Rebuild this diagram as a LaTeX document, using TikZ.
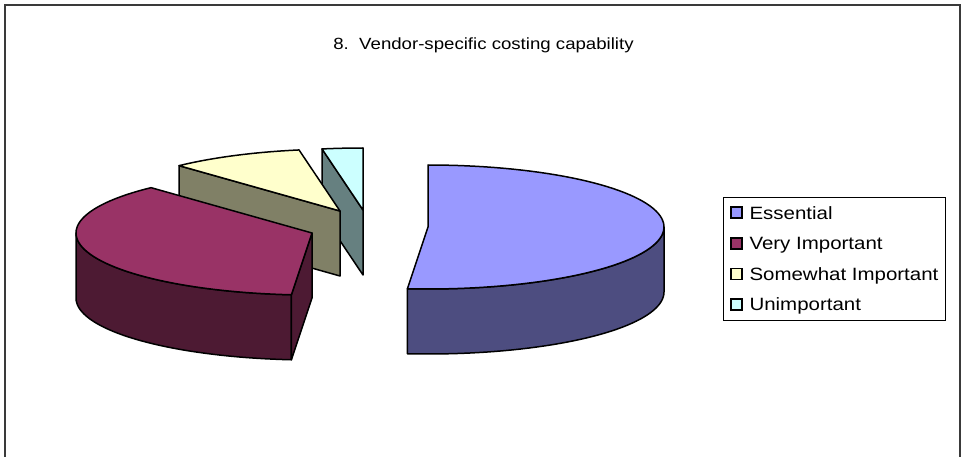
\documentclass[tikz,border=0pt]{standalone}
\usepackage{fontspec}
\newfontfamily\chartfont{Liberation Sans}[FakeStretch=1.15]
\definecolor{essTop}{HTML}{9999FF}
\definecolor{essSide}{HTML}{4D4D80}
\definecolor{viTop}{HTML}{993366}
\definecolor{viSide}{HTML}{4D1A33}
\definecolor{swTop}{HTML}{FFFFCC}
\definecolor{swSide}{HTML}{808066}
\definecolor{unTop}{HTML}{CCFFFF}
\definecolor{unSide}{HTML}{668080}
\definecolor{frameGray}{HTML}{3A3A3A}
\tikzset{
  face/.style={draw=black, line width=1.5pt, line join=round},
  legsq/.style={draw=black, line width=1.6pt, minimum size=11pt, inner sep=0pt},
  legtxt/.style={font=\chartfont\fontsize{17.8}{21}\selectfont, inner sep=0pt, anchor=base west},
}
\begin{document}
\begin{tikzpicture}[x=1pt,y=-1pt]
\useasboundingbox (0,0) rectangle (961,457);
% outer frame
\draw[frameGray, line width=2pt] (4.5,5.5) rectangle (960,480);
% title
\node[font=\chartfont\fontsize{16.2}{19}\selectfont, inner sep=0pt, anchor=base] (title) at (483.5,49.5) {8.\ \ Vendor-specific costing capability};
% ---- Unimportant (center 363,210), 90..100
\fill[unSide] (363,210) -- ({363+236*cos(100)},{210-62*sin(100)}) -- ++(0,65) -- (363,275) -- cycle;
\draw[face] (363,210) -- ({363+236*cos(100)},{210-62*sin(100)}) -- ++(0,65) -- (363,275) -- cycle;
\draw[face, fill=unTop] (363,210) -- plot[domain=100:90,samples=6] ({363+236*cos(\x)},{210-62*sin(\x)}) -- cycle;
% ---- Somewhat Important (center 340,211), 100..133
\draw[face, fill=swSide] (340,211) -- ({340+236*cos(133)},{211-62*sin(133)}) -- ++(0,65) -- (340,276) -- cycle;
\draw[face, fill=swTop] (340,211) -- plot[domain=133:100,samples=15] ({340+236*cos(\x)},{211-62*sin(\x)}) -- cycle;
% ---- Very Important (center 312,233), 133..265
\draw[face, fill=viSide] plot[domain=180:265,samples=40] ({312+236*cos(\x)},{233-62*sin(\x)}) -- plot[domain=265:180,samples=40] ({312+236*cos(\x)},{298-62*sin(\x)}) -- cycle;
\draw[face, fill=viSide] (312,233) -- ({312+236*cos(265)},{233-62*sin(265)}) -- ++(0,65) -- (312,298) -- cycle;
\draw[face, fill=viTop] (312,233) -- plot[domain=265:133,samples=60] ({312+236*cos(\x)},{233-62*sin(\x)}) -- cycle;
% ---- Essential (center 428,227), 265..450
\draw[face, fill=essSide] plot[domain=265:360,samples=45] ({428+236*cos(\x)},{227-62*sin(\x)}) -- plot[domain=360:265,samples=45] ({428+236*cos(\x)},{292-62*sin(\x)}) -- cycle;
\draw[face, fill=essTop] (428,227) -- plot[domain=450:265,samples=80] ({428+236*cos(\x)},{227-62*sin(\x)}) -- cycle;
% ---- legend
\node[draw=black, line width=1pt, minimum width=222pt, minimum height=123.3pt, anchor=north west, inner sep=0pt] (legend) at (723.3,196.7) {};
\node[legsq, fill=essTop] (sqE) at (736.7,212.8) {};
\node[legtxt] (txE) at (749.3,219.3) {Essential};
\node[legsq, fill=viTop] (sqV) at (736.7,243.3) {};
\node[legtxt] (txV) at (749.3,249.8) {Very Important};
\node[legsq, fill=swTop] (sqS) at (736.7,273.8) {};
\node[legtxt] (txS) at (749.3,280.3) {Somewhat Important};
\node[legsq, fill=unTop] (sqU) at (736.7,304.3) {};
\node[legtxt] (txU) at (749.3,310.8) {Unimportant};
\end{tikzpicture}
\end{document}
